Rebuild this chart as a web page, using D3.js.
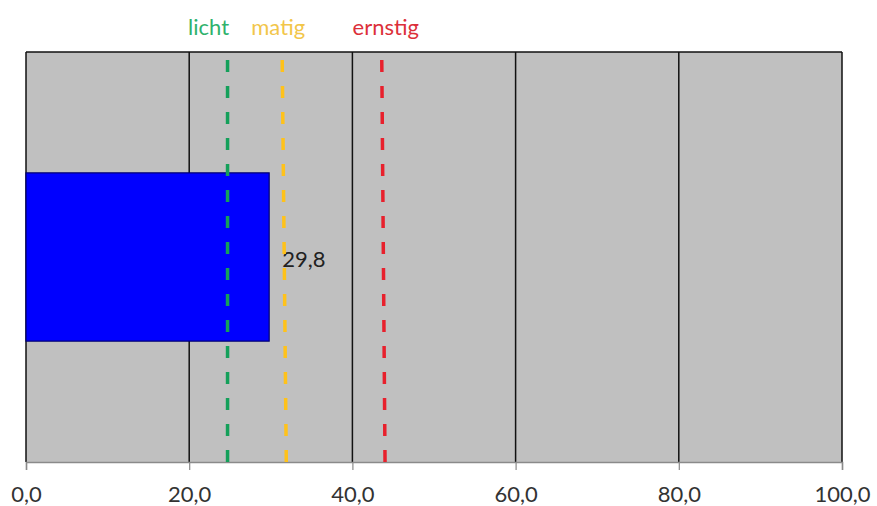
<!DOCTYPE html>
<html>
<head>
<meta charset="utf-8">
<script src="https://cdn.jsdelivr.net/npm/d3@7"></script>
<style>
  body { margin: 0; background: #fff; }
  svg { display: block; font-family: Lato, "Open Sans", sans-serif; }
</style>
</head>
<body>
<svg id="chart" width="877" height="506"></svg>
<script>
// data
categories = ['score'];
values = [29.8];
tickValues = [0, 20, 40, 60, 80, 100];

levelNames = ['licht', 'matig', 'ernstig'];
levelTop = [24.7, 31.4, 43.6];     // where each dashed line meets the top
levelBottom = [24.7, 31.9, 44.0];  // and where it meets the axis
levelLine = ['#14a05a', '#ffc21a', '#e8202c'];
levelText = ['#2fb26c', '#f2c64a', '#dc2f3a'];
labelShift = [-19, -4, 4];

width = 877;
height = 506;
margin = {top: 52, right: 35, bottom: 44, left: 26};
fontSize = 22;

svg = d3.select('#chart');
plotW = width - margin.left - margin.right;
plotH = height - margin.top - margin.bottom;

x = d3.scaleLinear().domain([0, 100]).range([margin.left, margin.left + plotW]);
y = d3.scaleBand().domain(categories)
	.range([margin.top, margin.top + plotH])
	.paddingInner(0.418).paddingOuter(0.418);

// plot area
svg.append('rect')
	.attr('x', x(0))
	.attr('y', margin.top)
	.attr('width', x(100) - x(0))
	.attr('height', plotH)
	.attr('fill', '#c0c0c0');

// vertical gridlines
svg.append('g').selectAll('line')
	.data(tickValues)
	.join('line')
		.attr('x1', d => x(d))
		.attr('x2', d => x(d))
		.attr('y1', margin.top)
		.attr('y2', margin.top + plotH)
		.attr('stroke', '#111')
		.attr('stroke-width', 1.5);

// top border
svg.append('line')
	.attr('x1', x(0)).attr('x2', x(100))
	.attr('y1', margin.top).attr('y2', margin.top)
	.attr('stroke', '#111')
	.attr('stroke-width', 1.5);

// bar
svg.append('g').selectAll('rect')
	.data(values)
	.join('rect')
		.attr('x', x(0))
		.attr('y', (d, i) => y(categories[i]))
		.attr('width', d => x(d) - x(0))
		.attr('height', y.bandwidth())
		.attr('fill', '#0000ff')
		.attr('stroke', '#000070')
		.attr('stroke-width', 1.2);

// value label
svg.append('g').selectAll('text')
	.data(values)
	.join('text')
		.attr('x', d => x(d) + 13)
		.attr('y', (d, i) => y(categories[i]) + y.bandwidth() / 2 + 2)
		.attr('dy', '0.35em')
		.attr('font-size', fontSize)
		.attr('fill', '#222')
		.text(d => d3.format('.1f')(d).replace('.', ','));

// x axis
axis = d3.axisBottom(x)
	.tickValues(tickValues)
	.tickSize(8)
	.tickPadding(16)
	.tickFormat(d => d3.format('.1f')(d).replace('.', ','));
axisG = svg.append('g')
	.attr('transform', `translate(0, ${margin.top + plotH})`)
	.call(axis);
axisG.select('.domain').attr('stroke', '#8a8a8a').attr('stroke-width', 1.5);
axisG.selectAll('.tick line').attr('stroke', '#8a8a8a').attr('stroke-width', 1.2);
axisG.selectAll('.tick text')
	.attr('font-size', fontSize)
	.attr('font-family', 'Lato, "Open Sans", sans-serif')
	.attr('fill', '#333');

// threshold lines
svg.append('g').selectAll('line')
	.data(levelNames)
	.join('line')
		.attr('x1', (d, i) => x(levelTop[i]))
		.attr('x2', (d, i) => x(levelBottom[i]))
		.attr('y1', margin.top + 8)
		.attr('y2', margin.top + plotH)
		.attr('stroke', (d, i) => levelLine[i])
		.attr('stroke-width', 3.5)
		.attr('stroke-dasharray', '12,14');

// threshold labels
svg.append('g').selectAll('text')
	.data(levelNames)
	.join('text')
		.attr('x', (d, i) => x(levelTop[i]) + labelShift[i])
		.attr('y', 35)
		.attr('text-anchor', 'middle')
		.attr('font-size', fontSize)
		.attr('fill', (d, i) => levelText[i])
		.text(d => d);
</script>
</body>
</html>
